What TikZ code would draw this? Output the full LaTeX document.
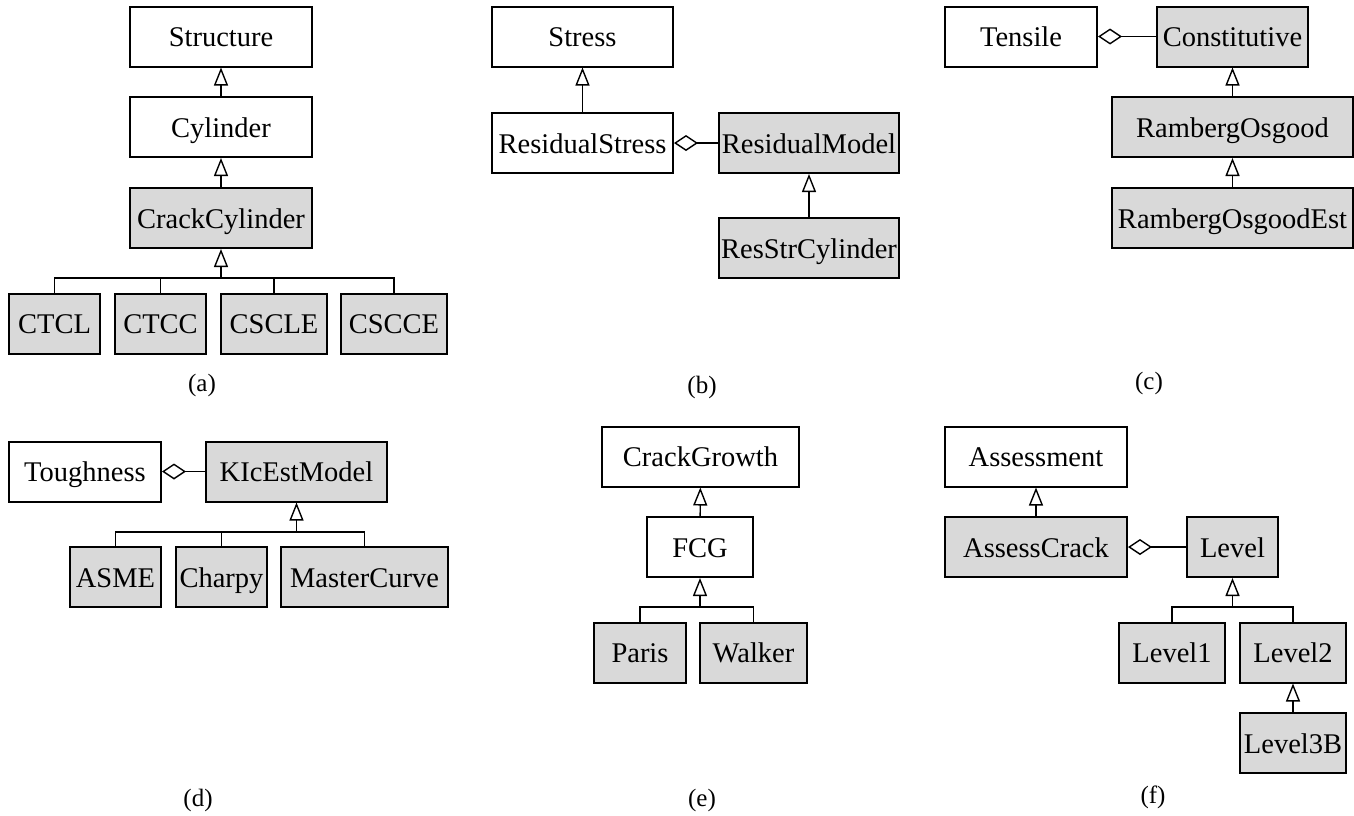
\documentclass[tikz,border=0pt]{standalone}
\usepackage{fontspec}
\setmainfont{Liberation Serif}
\usetikzlibrary{arrows.meta}
\definecolor{boxgray}{HTML}{D9D9D9}
\tikzset{
  cls/.style={draw=black, line width=2pt, inner sep=0pt, minimum height=60pt,
    text height=20pt, text depth=0pt, font=\fontsize{28.5}{30}\selectfont},
  gcls/.style={cls, fill=boxgray},
  inh/.style={line width=1.4pt, -{Triangle[open, length=18pt, width=14pt, line width=1.4pt]}},
  agg/.style={line width=1.4pt, -{Diamond[open, length=24pt, width=16pt, line width=1.4pt]}},
  bus/.style={line width=1.2pt},
  sublabel/.style={font=\fontsize{25}{27}\selectfont}
}
\begin{document}
\begin{tikzpicture}[x=1pt, y=-1pt]
\useasboundingbox (0,0) rectangle (1354,815);
% (a)
\node[cls, minimum width=182pt] (structure) at (221,36.5) {Structure};
\node[cls, minimum width=182pt] (cylinder) at (221,127) {Cylinder};
\node[gcls, minimum width=182pt] (crackcyl) at (221,218) {CrackCylinder};
\node[gcls, minimum width=91pt] (ctcl) at (54.5,323.5) {CTCL};
\node[gcls, minimum width=91pt] (ctcc) at (160.5,323.5) {CTCC};
\node[gcls, minimum width=106pt] (cscle) at (274,323.5) {CSCLE};
\node[gcls, minimum width=106pt] (cscce) at (394,323.5) {CSCCE};
\coordinate (abus) at (221,278);
\draw[inh] (cylinder) -- (structure);
\draw[inh] (crackcyl) -- (cylinder);
\draw[inh, line width=2pt] (abus) -- (crackcyl.south);
\draw[bus] (ctcl.north) |- (abus);
\draw[bus] (ctcc.north) |- (abus);
\draw[bus] (cscle.north) |- (abus);
\draw[bus] (cscce.north) |- (abus);
\node[sublabel] (capa) at (202,385) {(a)};
% (b)
\node[cls, minimum width=181pt] (stress) at (582.5,36.5) {Stress};
\node[cls, minimum width=181pt] (resstress) at (582.5,143) {ResidualStress};
\node[gcls, minimum width=180pt] (resmodel) at (809,143) {ResidualModel};
\node[gcls, minimum width=180pt] (resstrcyl) at (809,248) {ResStrCylinder};
\draw[inh] (resstress) -- (stress);
\draw[agg] (resmodel) -- (resstress);
\draw[inh] (resstrcyl) -- (resmodel);
\node[sublabel] (capb) at (702,387) {(b)};
% (c)
\node[cls, minimum width=152pt] (tensile) at (1021,36.5) {Tensile};
\node[gcls, minimum width=151pt] (constit) at (1232.5,36.5) {Constitutive};
\node[gcls, minimum width=241pt] (ro) at (1232.5,127) {RambergOsgood};
\node[gcls, minimum width=241pt] (roest) at (1232.5,218) {RambergOsgoodEst};
\draw[agg] (constit) -- (tensile);
\draw[inh] (ro) -- (constit);
\draw[inh] (roest) -- (ro);
\node[sublabel] (capc) at (1149,383) {(c)};
% (d)
\node[cls, minimum width=152pt] (tough) at (85,471.5) {Toughness};
\node[gcls, minimum width=181pt] (kic) at (296.5,471.5) {KIcEstModel};
\node[gcls, minimum width=91pt] (asme) at (115.5,577) {ASME};
\node[gcls, minimum width=91pt] (charpy) at (221.5,577) {Charpy};
\node[gcls, minimum width=167pt] (master) at (364.5,577) {MasterCurve};
\coordinate (dbus) at (296.5,532);
\draw[agg] (kic) -- (tough);
\draw[inh] (dbus) -- (kic.south);
\draw[bus] (asme.north) |- (dbus);
\draw[bus] (charpy.north) |- (dbus);
\draw[bus] (master.north) |- (dbus);
\node[sublabel] (capd) at (198,800) {(d)};
% (e)
\node[cls, minimum width=197pt] (crackgrowth) at (700.5,456.5) {CrackGrowth};
\node[cls, minimum width=106pt] (fcg) at (700,547) {FCG};
\node[gcls, minimum width=92pt] (paris) at (640,652.5) {Paris};
\node[gcls, minimum width=107pt] (walker) at (753.5,652.5) {Walker};
\coordinate (ebus) at (700,607);
\draw[inh] (fcg) -- (crackgrowth);
\draw[inh] (ebus) -- (fcg.south);
\draw[bus] (paris.north) |- (ebus);
\draw[bus] (walker.north) |- (ebus);
\node[sublabel] (cape) at (702,800) {(e)};
% (f)
\node[cls, minimum width=182pt] (assess) at (1036,456.5) {Assessment};
\node[gcls, minimum width=182pt] (assesscrack) at (1036,547) {AssessCrack};
\node[gcls, minimum width=91pt] (level) at (1232.5,547) {Level};
\node[gcls, minimum width=106pt] (level1) at (1172,652.5) {Level1};
\node[gcls, minimum width=106pt] (level2) at (1293,652.5) {Level2};
\node[gcls, minimum width=106pt] (level3b) at (1293,743) {Level3B};
\coordinate (fbus) at (1232.5,607);
\draw[inh] (assesscrack) -- (assess);
\draw[agg] (level) -- (assesscrack);
\draw[inh] (fbus) -- (level.south);
\draw[bus] (level1.north) |- (fbus);
\draw[bus] (level2.north) |- (fbus);
\draw[inh] (level3b) -- (level2);
\node[sublabel] (capf) at (1153,797) {(f)};
\end{tikzpicture}
\end{document}
